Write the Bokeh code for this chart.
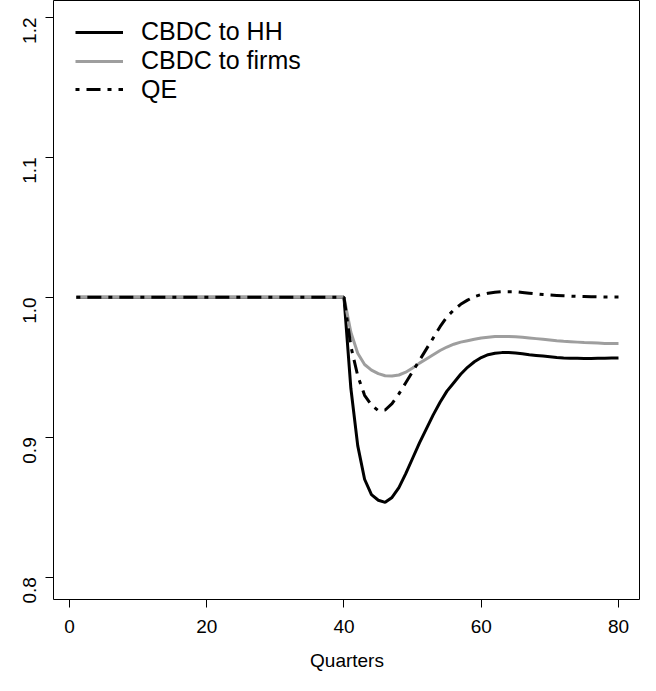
import math
from bokeh.plotting import figure
from bokeh.models import Range1d, FixedTicker, Legend, LegendItem, ColumnDataSource
from bokeh.embed import file_html
from bokeh.resources import INLINE

# ---- data ----
quarters = list(range(1, 81))
pre_shock = [1.0] * 40
hh_post = [0.935, 0.894, 0.870, 0.859, 0.855, 0.8535, 0.857, 0.864, 0.874, 0.885,
           0.896, 0.906, 0.916, 0.925, 0.933, 0.939, 0.945, 0.950, 0.954, 0.957,
           0.959, 0.960, 0.9605, 0.9605, 0.9602, 0.9597, 0.959, 0.9585, 0.958, 0.9575,
           0.957, 0.9567, 0.9565, 0.9564, 0.9563, 0.9563, 0.9564, 0.9565, 0.9566, 0.9567]
firms_post = [0.975, 0.960, 0.952, 0.948, 0.9455, 0.944, 0.9438, 0.9445, 0.9465, 0.9495,
              0.953, 0.956, 0.959, 0.962, 0.9645, 0.9665, 0.968, 0.969, 0.970, 0.971,
              0.9715, 0.972, 0.972, 0.972, 0.9718, 0.9715, 0.971, 0.9705, 0.970, 0.9695,
              0.969, 0.9686, 0.9683, 0.968, 0.9677, 0.9675, 0.9673, 0.9671, 0.967, 0.967]
qe_post = [0.965, 0.944, 0.930, 0.923, 0.919, 0.9195, 0.924, 0.931, 0.939, 0.947,
           0.955, 0.963, 0.971, 0.979, 0.986, 0.991, 0.995, 0.998, 1.0005, 1.002,
           1.003, 1.0037, 1.004, 1.004, 1.004, 1.0035, 1.003, 1.0025, 1.002, 1.0017,
           1.0014, 1.0011, 1.0009, 1.0007, 1.0006, 1.0005, 1.0004, 1.0003, 1.0003, 1.0003]
cbdc_hh = pre_shock + hh_post
cbdc_firms = pre_shock + firms_post
qe = pre_shock + qe_post

series_names = ["CBDC to HH", "CBDC to firms", "QE"]
x_ticks = [0, 20, 40, 60, 80]
y_ticks = [0.8, 0.9, 1.0, 1.1, 1.2]
y_tick_labels = ["0.8", "0.9", "1.0", "1.1", "1.2"]
x_label = "Quarters"

FONT = "Liberation Sans"

src = ColumnDataSource(dict(q=quarters, hh=cbdc_hh, firms=cbdc_firms, qe=qe))

p = figure(width=640, height=675, output_backend="svg", toolbar_location=None,
           x_range=Range1d(-2.3315, 83.206), y_range=Range1d(0.78406, 1.21215),
           min_border_left=53, min_border_right=0, min_border_top=0, min_border_bottom=76)
p.background_fill_color = "white"
p.border_fill_color = "white"
p.outline_line_color = "black"
p.outline_line_width = 1
p.xgrid.grid_line_color = None
p.ygrid.grid_line_color = None

r1 = p.line("q", "hh", source=src, line_color="black", line_width=3)
r2 = p.line("q", "firms", source=src, line_color="#9e9e9e", line_width=3)
r3 = p.line("q", "qe", source=src, line_color="black", line_width=3, line_dash="4 7 14 7")

for ax in (p.xaxis[0], p.yaxis[0]):
    ax.axis_line_color = None
    ax.major_tick_line_color = "black"
    ax.major_tick_out = 8
    ax.major_tick_in = 0
    ax.minor_tick_line_color = None
    ax.major_label_text_font = FONT
    ax.major_label_text_font_size = "19px"
    ax.major_label_text_color = "black"

p.xaxis[0].ticker = FixedTicker(ticks=x_ticks)
p.xaxis[0].major_label_standoff = 12
p.xaxis[0].axis_label = x_label
p.xaxis[0].axis_label_text_font = FONT
p.xaxis[0].axis_label_text_font_size = "19px"
p.xaxis[0].axis_label_text_font_style = "normal"
p.xaxis[0].axis_label_text_color = "black"
p.xaxis[0].axis_label_standoff = 14

p.yaxis[0].ticker = FixedTicker(ticks=y_ticks)
p.yaxis[0].major_label_overrides = {t: s for t, s in zip(y_ticks, y_tick_labels)}
p.yaxis[0].major_label_orientation = math.pi / 2
p.yaxis[0].major_label_standoff = 16

# one legend per row so each row can be placed exactly
row_offsets = [553, 524, 495.5]
for name, rend, vy in zip(series_names, [r1, r2, r3], row_offsets):
    lg = Legend(items=[LegendItem(label=name, renderers=[rend])],
                location=(22, vy), padding=0, margin=0, spacing=0,
                glyph_width=48, glyph_height=28, label_height=28, label_standoff=18,
                label_text_font=FONT, label_text_font_size="25px",
                label_text_color="black",
                border_line_color=None, background_fill_alpha=0)
    p.add_layout(lg)

open("out.html", "w").write(file_html(p, INLINE))
